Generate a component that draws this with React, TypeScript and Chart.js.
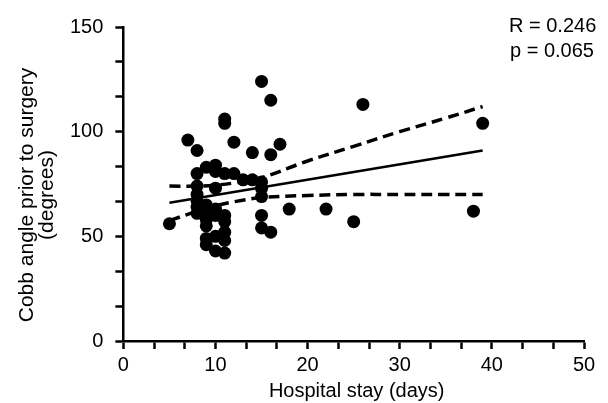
import React, { useEffect, useRef } from "react";
import { Chart, registerables } from "chart.js";

Chart.register(...registerables);

// Scatter data: hospital stay (days) vs Cobb angle prior to surgery (degrees)
const hospitalStay = [
  5, 7, 8, 8, 8, 8, 8, 8, 8, 9, 9, 9, 9, 9, 9, 9, 10, 10, 10, 10, 10, 10, 10,
  11, 11, 11, 11, 11, 11, 11, 11, 12, 12, 13, 14, 14, 15, 15, 15, 15, 15, 15,
  16, 16, 16, 17, 18, 22, 25, 26, 38, 39,
];
const cobbAngle = [
  56, 96, 91, 80, 74, 70, 67, 64, 61, 83, 65, 62, 58, 55, 49, 46, 84, 81, 73,
  63, 60, 50, 43, 106, 104, 80, 60, 57, 52, 48, 42, 95, 80, 77, 90, 77, 124,
  76, 73, 69, 60, 54, 115, 89, 52, 94, 63, 63, 57, 113, 62, 104,
];

// Regression line and confidence band
const fitX = [5, 39];
const fitY = [66, 91];
const bandX = [5, 8, 10, 12, 15, 20, 25, 30, 35, 39];
const upperBand = [74, 74, 74.5, 75.5, 78, 86, 93, 100, 106.5, 112];
const lowerBand = [57.5, 62, 64.5, 66.5, 68.5, 69.5, 70, 70, 70, 70];

const xMajor = [0, 10, 20, 30, 40, 50];
const yMajor = [0, 50, 100, 150];

const xTitle = "Hospital stay (days)";
const yTitleLines = ["Cobb angle prior to surgery", "(degrees)"];
const statLines = ["R = 0.246", "p = 0.065"];

const FONT = "'Liberation Sans', Arial, Helvetica, sans-serif";

function withMinors(majors: number[]): number[] {
  const out: number[] = [];
  for (let i = 0; i < majors.length; i++) {
    out.push(majors[i]);
    if (i < majors.length - 1) {
      const step = (majors[i + 1] - majors[i]) / 3;
      out.push(majors[i] + step, majors[i] + 2 * step);
    }
  }
  return out;
}

const isMajor = (v: number, majors: number[]) =>
  majors.some((m) => Math.abs(m - v) < 1e-6);

export default function App() {
  const ref = useRef<HTMLCanvasElement | null>(null);

  useEffect(() => {
    if (!ref.current) return;

    const textPlugin = {
      id: "texts",
      afterDraw(chart: any) {
        const ctx = chart.ctx as CanvasRenderingContext2D;
        const area = chart.chartArea;
        ctx.save();
        ctx.fillStyle = "#000";
        ctx.font = `20px ${FONT}`;
        // x title
        ctx.textAlign = "center";
        ctx.textBaseline = "alphabetic";
        ctx.fillText(xTitle, (area.left + area.right) / 2 + 3, 397);
        // y title
        ctx.font = `21px ${FONT}`;
        const yc = 195;
        const xs = [33, 53];
        yTitleLines.forEach((line, i) => {
          ctx.save();
          ctx.translate(xs[i], yc);
          ctx.rotate(-Math.PI / 2);
          ctx.textAlign = "center";
          ctx.fillText(line, 0, 0);
          ctx.restore();
        });
        // stats
        ctx.font = `20px ${FONT}`;
        ctx.textAlign = "left";
        ctx.fillText(statLines[0], 509, 32);
        ctx.fillText(statLines[1], 510, 57);
        ctx.restore();
      },
    };

    const chart = new Chart(ref.current, {
      type: "scatter",
      data: {
        datasets: [
          {
            label: "upper",
            type: "line",
            data: bandX.map((x, i) => ({ x, y: upperBand[i] })),
            borderColor: "#000",
            borderWidth: 3.5,
            borderDash: [11, 6],
            pointRadius: 0,
            tension: 0.4,
            fill: false,
          } as any,
          {
            label: "lower",
            type: "line",
            data: bandX.map((x, i) => ({ x, y: lowerBand[i] })),
            borderColor: "#000",
            borderWidth: 3.5,
            borderDash: [11, 6],
            pointRadius: 0,
            tension: 0.4,
            fill: false,
          } as any,
          {
            label: "fit",
            type: "line",
            data: fitX.map((x, i) => ({ x, y: fitY[i] })),
            borderColor: "#000",
            borderWidth: 2.5,
            pointRadius: 0,
            fill: false,
          } as any,
          {
            label: "patients",
            data: hospitalStay.map((x, i) => ({ x, y: cobbAngle[i] })),
            backgroundColor: "#000",
            borderColor: "#000",
            borderWidth: 0,
            pointRadius: 6.5,
          },
        ],
      },
      options: {
        animation: false,
        responsive: false,
        maintainAspectRatio: false,
        events: [],
        layout: { padding: { left: 58, right: 24, top: 27, bottom: 22 } },
        plugins: {
          legend: { display: false },
          tooltip: { enabled: false },
        },
        scales: {
          x: {
            type: "linear",
            min: 0,
            max: 50,
            afterBuildTicks: (scale: any) => {
              scale.ticks = withMinors(xMajor).map((value) => ({ value }));
            },
            ticks: {
              autoSkip: false,
              maxRotation: 0,
              padding: 4,
              color: "#000",
              font: { family: FONT, size: 20 },
              callback: (v: any) => (isMajor(Number(v), xMajor) ? String(Math.round(Number(v))) : ""),
            },
            grid: {
              display: true,
              drawOnChartArea: false,
              drawTicks: true,
              tickLength: 8,
              tickWidth: 2.5,
              tickColor: "#000",
            },
            border: { display: true, color: "#000", width: 2.5 },
          },
          y: {
            type: "linear",
            min: 0,
            max: 150,
            afterBuildTicks: (scale: any) => {
              scale.ticks = withMinors(yMajor).map((value) => ({ value }));
            },
            ticks: {
              autoSkip: false,
              padding: 12,
              color: "#000",
              font: { family: FONT, size: 20 },
              callback: (v: any) => (isMajor(Number(v), yMajor) ? String(Math.round(Number(v))) : ""),
            },
            grid: {
              display: true,
              drawOnChartArea: false,
              drawTicks: true,
              tickLength: 8,
              tickWidth: 2.5,
              tickColor: "#000",
            },
            border: { display: true, color: "#000", width: 2.5 },
          },
        },
      },
      plugins: [textPlugin],
    });

    return () => chart.destroy();
  }, []);

  return (
    <div style={{ position: "absolute", left: 0, top: 0, width: 608, height: 403, background: "#fff" }}>
      <canvas ref={ref} width={608} height={403} style={{ width: 608, height: 403 }} />
    </div>
  );
}
